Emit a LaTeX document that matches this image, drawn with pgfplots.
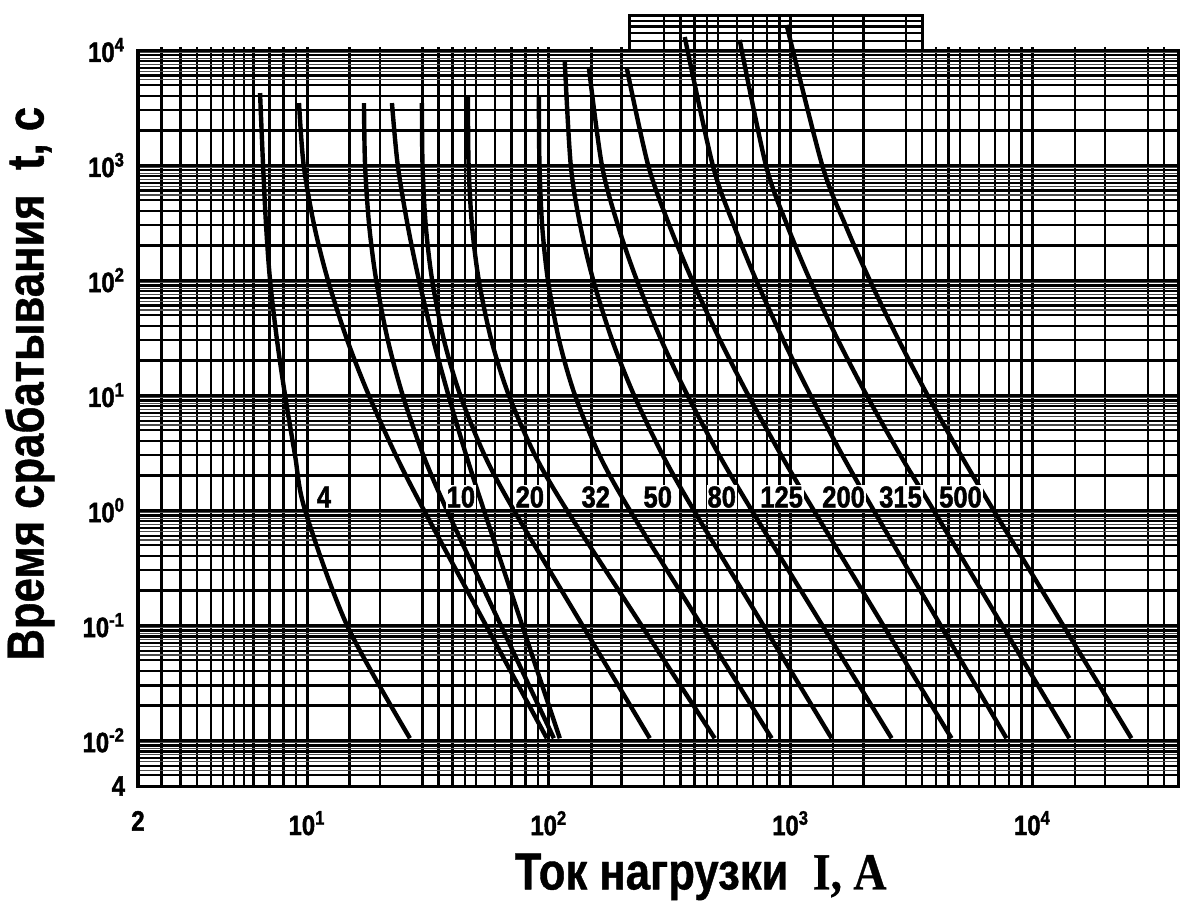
\documentclass[border=0pt]{standalone}
\usepackage{fontspec}
\setmainfont{Liberation Sans}
\newfontfamily\heavy[FakeStretch=0.85,FakeBold=1.6]{Liberation Sans Bold}
\newfontfamily\cond[FakeStretch=0.84,FakeBold=0.8]{Liberation Sans Bold}
\newfontfamily\condserif[FakeStretch=0.88,FakeBold=0.6]{Liberation Serif Bold}
\usepackage{pgfplots}
\pgfplotsset{compat=1.18}
\tikzset{
  curve/.style={black, line width=2.2pt, smooth},
  lab/.style={font=\heavy\fontsize{15}{15}\selectfont, fill=white, inner sep=0.5pt},
}
\begin{document}
\begin{tikzpicture}
\begin{axis}[
  scale only axis, width=520pt, height=385.3pt,
  xmode=log, ymode=log,
  xmin=2, xmax=4e4, ymin=4e-3, ymax=2e4,
  clip=false,
  axis line style={draw=none},
  major tick length=0pt, minor tick length=0pt,
  xtick={10,100,1000,10000},
  xticklabels={10\textsuperscript{1},10\textsuperscript{2},10\textsuperscript{3},10\textsuperscript{4}},
  extra x ticks={2}, extra x tick labels={2}, extra x tick style={grid=none},
  ytick={4e-3,1e-2,0.1,1,10,100,1000,10000},
  yticklabels={4,10\textsuperscript{-2},10\textsuperscript{-1},10\textsuperscript{0},10\textsuperscript{1},10\textsuperscript{2},10\textsuperscript{3},10\textsuperscript{4}},
  minor xtick={2.5,3,3.5,4,4.5,5,5.5,6,7,8,9,15,20,30,35,40,45,50,60,70,80,90,150,200,300,350,400,450,500,600,700,800,900,1500,2000,3000,3500,4000,4500,5000,6000,7000,8000,9000,15000,20000,30000,35000},
  minor ytick={5e-3,6e-3,7e-3,8e-3,9e-3,0.02,0.03,0.04,0.05,0.06,0.07,0.08,0.09,0.2,0.3,0.4,0.5,0.6,0.7,0.8,0.9,2,3,4,5,6,7,8,9,20,30,40,50,60,70,80,90,200,300,400,500,600,700,800,900,2000,3000,4000,5000,6000,7000,8000,9000,12000,14000,16000,18000},
  extra y ticks={5.5e-3,6.5e-3,7.5e-3,8.5e-3,9.5e-3,0.055,0.065,0.075,0.085,0.095,0.55,0.65,0.75,0.85,0.95,5.5,6.5,7.5,8.5,9.5,55,65,75,85,95,550,650,750,850,950,5500,6500,7500,8500,9500},
  extra y tick style={grid=major, major grid style={line width=0.6pt, black!70}, yticklabel={}},
  grid=both,
  major grid style={line width=1.5pt, black},
  minor grid style={line width=1.15pt, black},
  ticklabel style={font=\heavy\fontsize{14}{14}\selectfont},
  xticklabel style={yshift=-9pt},
  yticklabel style={xshift=-3pt},
  xlabel={Ток нагрузки\ \ {\condserif I, A}},
  ylabel={Время срабатывания\ \ t, c},
  label style={font=\cond\fontsize{26}{26}\selectfont},
  xlabel style={at={(axis description cs:0.541,-0.118)}, anchor=center},
  ylabel style={at={(axis description cs:-0.104,0.522)}, anchor=center},
]
% 4 A
\addplot[curve] coordinates {(6.394,4227) (6.580,1000) (6.770,300) (7.032,100) (7.516,30) (8.112,10) (8.921,3) (9.811,1) (14.63,0.1) (26.64,0.0104)};
\addplot[curve] coordinates {(9.266,3459) (9.683,1000) (10.70,300) (12.20,100) (14.67,30) (18.00,10) (23.30,3) (30.44,1) (54.92,0.1) (98.1,0.0104)};
% 10 A
\addplot[curve] coordinates {(17.20,3459) (17.38,1000) (18.07,300) (19.32,100) (21.59,30) (24.86,10) (30.27,3) (37.89,1) (63.27,0.1) (104.9,0.0104)};
\addplot[curve] coordinates {(22.45,3459) (23.72,1000) (26.07,300) (29.03,100) (33.32,30) (38.43,10) (45.53,3) (53.88,1) (77.57,0.1) (111.0,0.0104)};
% 20 A
\addplot[curve] coordinates {(29.87,3459) (30.04,1000) (30.97,300) (32.92,100) (36.86,30) (43.00,10) (54.24,3) (71.68,1) (137.6,0.1) (261.5,0.0104)};
% 32 A
\addplot[curve] coordinates {(46.27,3903) (46.58,1000) (48.10,300) (51.32,100) (57.87,30) (68.28,10) (87.70,3) (118.7,1) (241.3,0.1) (485.3,0.0104)};
% 50 A
\addplot[curve] coordinates {(90.93,3903) (91.47,1000) (93.82,300) (99.15,100) (110.3,30) (128.2,10) (162.0,3) (216.1,1) (427.2,0.1) (834.6,0.0104)};
% 80 A
\addplot[curve] coordinates {(116.4,7865) (123.2,1000) (134.8,300) (152.6,100) (182.8,30) (225.0,10) (295.9,3) (397.4,1) (770.5,0.1) (1477,0.0104)};
% 125 A
\addplot[curve] coordinates {(146.3,7117) (165.7,1000) (193.0,300) (231.0,100) (292.0,30) (374.2,10) (507.0,3) (689.9,1) (1351,0.1) (2615,0.0104)};
% 200 A
\addplot[curve] coordinates {(210.0,6973) (257.4,1000) (315.0,300) (391.4,100) (510.9,30) (667.4,10) (914.7,3) (1245,1) (2413,0.1) (4627,0.0104)};
% 315 A
\addplot[curve] coordinates {(364.8,12973) (476.1,1000) (582.0,300) (720.1,100) (932.9,30) (1208,10) (1637,3) (2203,1) (4167,0.1) (7809,0.0104)};
% 500 A
\addplot[curve] coordinates {(615.6,12218) (789.8,1000) (967.2,300) (1202,100) (1571,30) (2061,10) (2843,3) (3899,1) (7489,0.1) (14220,0.0104)};
\addplot[curve] coordinates {(962.7,16498) (1350,1000) (1686,300) (2123,100) (2800,30) (3682,10) (5064,3) (6899,1) (13378,0.1) (25652,0.0104)};
% white outside the raised part of the grid
\fill[white] (axis cs:1.9,1.06e4) rectangle (axis cs:215,2.3e4);
\fill[white] (axis cs:3500,1.06e4) rectangle (axis cs:4.4e4,2.3e4);
\draw[line width=1.5pt, line join=miter] (axis cs:2,4e-3) -- (axis cs:2,1e4) -- (axis cs:215,1e4) -- (axis cs:215,2e4) -- (axis cs:3500,2e4) -- (axis cs:3500,1e4) -- (axis cs:4e4,1e4) -- (axis cs:4e4,4e-3) -- cycle;
% curve labels
\node[lab] at (axis cs:11.75,1.3) {4};
\node[lab] at (axis cs:43.29,1.3) {10};
\node[lab] at (axis cs:83.47,1.3) {20};
\node[lab] at (axis cs:156.4,1.3) {32};
\node[lab] at (axis cs:282.1,1.3) {50};
\node[lab] at (axis cs:518.7,1.3) {80};
\node[lab] at (axis cs:917.9,1.3) {125};
\node[lab] at (axis cs:1656,1.3) {200};
\node[lab] at (axis cs:2848,1.3) {315};
\node[lab] at (axis cs:5041,1.3) {500};
\end{axis}
\pgfresetboundingbox
\path[use as bounding box] (-69pt,-60pt) rectangle (524pt,393pt);
\end{tikzpicture}
\end{document}
